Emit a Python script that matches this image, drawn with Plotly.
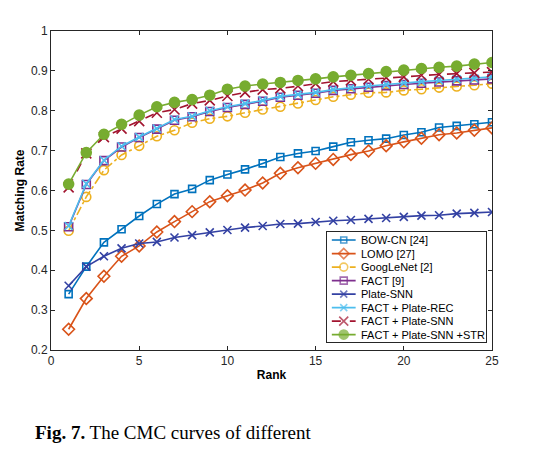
import plotly.graph_objects as go

# ----------------------------- Datos -----------------------------
rank = list(range(1, 26))

bow_cn = [0.340, 0.409, 0.470, 0.503, 0.536, 0.566, 0.591, 0.604, 0.626, 0.640, 0.653, 0.668,
          0.684, 0.693, 0.699, 0.710, 0.721, 0.726, 0.730, 0.739, 0.746, 0.758, 0.762, 0.766, 0.771]
lomo = [0.252, 0.329, 0.385, 0.435, 0.461, 0.496, 0.522, 0.547, 0.572, 0.587, 0.601, 0.619,
        0.643, 0.657, 0.668, 0.678, 0.690, 0.699, 0.712, 0.722, 0.731, 0.740, 0.744, 0.751, 0.757]
googlenet = [0.499, 0.584, 0.651, 0.689, 0.712, 0.736, 0.751, 0.770, 0.780, 0.786, 0.795, 0.803,
             0.810, 0.818, 0.827, 0.835, 0.840, 0.845, 0.846, 0.851, 0.854, 0.858, 0.861, 0.864, 0.868]
fact = [0.509, 0.615, 0.675, 0.709, 0.733, 0.754, 0.776, 0.785, 0.798, 0.808, 0.816, 0.824,
        0.834, 0.839, 0.844, 0.851, 0.855, 0.859, 0.863, 0.866, 0.869, 0.872, 0.875, 0.877, 0.880]
plate_snn = [0.361, 0.409, 0.435, 0.455, 0.467, 0.471, 0.482, 0.488, 0.495, 0.501, 0.507, 0.511,
             0.516, 0.517, 0.521, 0.524, 0.526, 0.529, 0.531, 0.534, 0.537, 0.538, 0.542, 0.544, 0.546]
fact_rec = [0.511, 0.617, 0.676, 0.711, 0.734, 0.755, 0.778, 0.786, 0.800, 0.810, 0.818, 0.826,
            0.836, 0.841, 0.846, 0.853, 0.858, 0.862, 0.866, 0.870, 0.873, 0.876, 0.879, 0.881, 0.885]
fact_snn = [0.608, 0.693, 0.734, 0.755, 0.774, 0.795, 0.803, 0.818, 0.826, 0.837, 0.846, 0.853,
            0.856, 0.862, 0.868, 0.873, 0.876, 0.879, 0.883, 0.885, 0.889, 0.891, 0.893, 0.895, 0.897]
fact_snn_str = [0.616, 0.695, 0.741, 0.766, 0.789, 0.810, 0.821, 0.828, 0.839, 0.854, 0.862, 0.867,
                0.871, 0.876, 0.880, 0.885, 0.889, 0.893, 0.898, 0.902, 0.906, 0.909, 0.912, 0.917, 0.921]

x_ticks = [0, 5, 10, 15, 20, 25]
y_ticks = [0.2, 0.3, 0.4, 0.5, 0.6, 0.7, 0.8, 0.9, 1.0]
y_tick_labels = ['0.2', '0.3', '0.4', '0.5', '0.6', '0.7', '0.8', '0.9', '1']

# ----------------------------- Estilos de cada serie -----------------------------
series = [
    ('BOW-CN [24]', bow_cn, '#0072BD', 'solid', 'square-open', 7),
    ('LOMO [27]', lomo, '#D95319', 'solid', 'diamond-open', 9),
    ('GoogLeNet [2]', googlenet, '#EDB120', 'dashdot', 'circle-open', 9),
    ('FACT [9]', fact, '#7E2F8E', 'solid', 'square-open', 8),
    ('Plate-SNN', plate_snn, '#3341A3', 'solid', 'x-thin', 8),
    ('FACT + Plate-REC', fact_rec, '#4DBEEE', 'solid', 'x-thin', 8),
    ('FACT + Plate-SNN', fact_snn, '#A2142F', 'dash', 'x-thin', 10),
    ('FACT + Plate-SNN +STR', fact_snn_str, '#77AC30', 'solid', 'circle', 10),
]

fig = go.Figure()

for nombre, valores, color, estilo, simbolo, tam in series:
    fig.add_trace(go.Scatter(
        x=rank, y=valores, name=nombre, mode='lines+markers',
        line=dict(color=color, width=1.6, dash=estilo),
        marker=dict(symbol=simbolo, size=tam, color=color,
                    line=dict(color=color, width=1.6)),
        showlegend=False
    ))

# Leyenda dibujada a mano en unos ejes pequeños (la nativa de plotly es demasiado alta)
for i, (nombre, valores, color, estilo, simbolo, tam) in enumerate(series, start=1):
    fig.add_trace(go.Scatter(
        x=[0.03, 0.105, 0.18], y=[i, i, i], mode='lines+markers',
        line=dict(color=color, width=1.6, dash=estilo if estilo != 'dashdot' else 'dash'),
        marker=dict(symbol=simbolo, size=[0, tam - 1, 0], color=color,
                    line=dict(color=color, width=1.6)),
        xaxis='x2', yaxis='y2', showlegend=False, hoverinfo='skip'
    ))
    fig.add_annotation(text=nombre, x=0.2, y=i, xref='x2', yref='y2',
                       xanchor='left', yanchor='middle', showarrow=False,
                       font=dict(family='Liberation Sans', size=11, color='#000'))

eje = dict(showline=True, linecolor='#262626', linewidth=1, mirror='ticks',
           ticks='inside', ticklen=4, tickcolor='#262626', showgrid=False,
           zeroline=False, automargin=False,
           tickfont=dict(family='Liberation Sans', size=12, color='#262626'))

# la página añade 8 px de margen al body, por eso el tamaño es 527x448
fig.update_layout(
    xaxis=dict(range=[0, 25], tickvals=x_ticks, **eje,
               title=dict(text='<b>Rank</b>', font=dict(family='Liberation Sans', size=12, color='#000'),
                          standoff=3)),
    yaxis=dict(range=[0.2, 1.0], tickvals=y_ticks, ticktext=y_tick_labels, **eje,
               title=dict(text='<b>Matching Rate</b>', font=dict(family='Liberation Sans', size=12, color='#000'),
                          standoff=3)),
    xaxis2=dict(domain=[0.626, 0.986], range=[0, 1], anchor='y2', showline=True, mirror=True,
                linecolor='#262626', linewidth=1, showticklabels=False, ticks='',
                showgrid=False, zeroline=False, fixedrange=True),
    yaxis2=dict(domain=[0.025, 0.37], range=[8.55, 0.4], anchor='x2', showline=True, mirror=True,
                linecolor='#262626', linewidth=1, showticklabels=False, ticks='',
                showgrid=False, zeroline=False, fixedrange=True),
    width=527, height=448,
    margin=dict(l=43, r=43, t=23, b=106),
    paper_bgcolor='white', plot_bgcolor='white',
)

fig.add_annotation(
    text='<b>Fig. 7.</b> The CMC curves of different',
    xref='paper', yref='paper', x=-0.04, y=-0.26, xanchor='left', yanchor='middle',
    showarrow=False, font=dict(family='Liberation Serif', size=19, color='#000'))

fig.write_html("out.html")
